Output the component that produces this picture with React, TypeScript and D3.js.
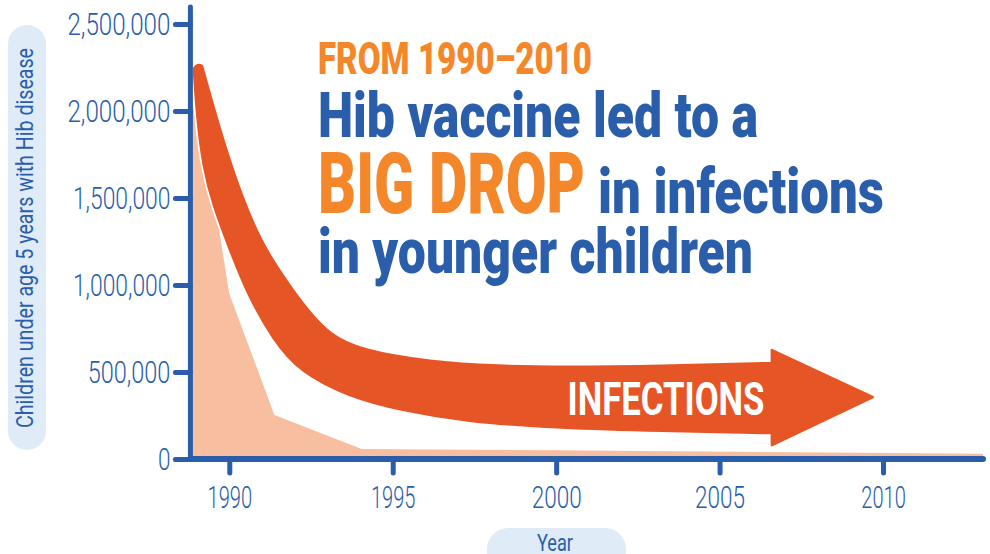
import React, { useEffect, useRef } from 'react';
import * as d3 from 'd3';

// Hib cases in children under 5
const years = [1988.8, 1989.65, 1990, 1991.38, 1994.05, 2000, 2013.06];
const cases = [2100000, 1360000, 950000, 253000, 57000, 50000, 30000];

const yTicks = [0, 500000, 1000000, 1500000, 2000000, 2500000];
const xTicks = [1990, 1995, 2000, 2005, 2010];

// decorative "infections" arrow, given in year / value space
const arrowUpperYears = [1989.165, 1989.41, 1989.9, 1990.39, 1990.94, 1991.61, 1992.38, 1993.08, 1994.0, 1996.14, 1998.28, 2000.12, 2003.18, 2006.6];
const arrowUpperValues = [2259000, 2092000, 1776000, 1506000, 1259000, 1057000, 856000, 713000, 626000, 557000, 534000, 529000, 534000, 552000];
const arrowLowerYears = [1988.92, 1989.01, 1989.2, 1989.5, 1990.02, 1990.54, 1991.34, 1992.16, 1993.69, 1995.22, 1997.27, 2000.12, 2003.18, 2006.6];
const arrowLowerValues = [2230000, 1966000, 1678000, 1460000, 1201000, 954000, 684000, 500000, 356000, 282000, 213000, 178000, 161000, 149000];
const arrowHeadYears = [2006.6, 2009.69, 2006.6];
const arrowHeadValues = [626000, 356000, 80000];

const BLUE = '#2a5eaa';
const ORANGE = '#f5872b';
const RED = '#e65525';
const PEACH = '#f7bf9f';
const PILL = '#dfebf6';
const FONT = 'Roboto, "Noto Sans", sans-serif';

// rough widths of the condensed digits in the original
const labelWidth = (s: string) =>
  [...s].reduce((w, c) => w + (c === '1' ? 7 : c === ',' ? 7.75 : 12.5), 0);

export default function App() {
  const ref = useRef<SVGSVGElement>(null);

  useEffect(() => {
    const svg = d3.select(ref.current);
    svg.selectAll('*').remove();

    const x = d3.scaleLinear().domain([1990, 2010]).range([229.3, 883]);
    const y = d3.scaleLinear().domain([0, 2500000]).range([459, 24]);
    const xMin = 1988.81, xMax = 2013.06, yMax = 2598000;

    // axis title pills
    svg.append('rect').attr('x', 8).attr('y', 25).attr('width', 38).attr('height', 425)
      .attr('rx', 19).attr('fill', PILL);
    svg.append('text')
      .attr('transform', 'translate(33,238) rotate(-90)')
      .attr('text-anchor', 'middle')
      .attr('font-family', FONT).attr('font-size', 24).attr('fill', BLUE)
      .attr('textLength', 380).attr('lengthAdjust', 'spacingAndGlyphs')
      .text('Children under age 5 years with Hib disease');

    svg.append('rect').attr('x', 487).attr('y', 528).attr('width', 139).attr('height', 44)
      .attr('rx', 21).attr('fill', PILL);
    svg.append('text').attr('x', 537).attr('y', 551)
      .attr('font-family', FONT).attr('font-size', 24).attr('fill', BLUE)
      .attr('textLength', 36).attr('lengthAdjust', 'spacingAndGlyphs')
      .text('Year');

    // area
    const data = years.map((yr, i) => ({ yr, v: cases[i] }));
    const area = d3.area<{ yr: number; v: number }>()
      .x(d => x(d.yr)).y0(y(0)).y1(d => y(d.v));
    svg.append('path').datum(data).attr('d', area).attr('fill', PEACH);

    // arrow: upper edge -> head -> lower edge back, rounded tip
    const line = d3.line<[number, number]>()
      .x(d => x(d[0])).y(d => y(d[1]))
      .curve(d3.curveBasis);
    const upper = arrowUpperYears.map((yr, i) => [yr, arrowUpperValues[i]] as [number, number]);
    const lower = arrowLowerYears.map((yr, i) => [yr, arrowLowerValues[i]] as [number, number]).reverse();
    const head = arrowHeadYears.map((yr, i) => [x(yr), y(arrowHeadValues[i])]);
    const start = [x(upper[0][0]), y(upper[0][1])];
    const arrowPath = line(upper)! +
      head.map(p => `L${p[0]},${p[1]}`).join('') +
      line(lower)!.replace(/^M/, 'L') +
      `A5.2,5.2 0 0 1 ${start[0]},${start[1]}Z`;
    svg.append('path').attr('d', arrowPath).attr('fill', 'none')
      .attr('stroke', '#fff').attr('stroke-width', 6).attr('stroke-linejoin', 'round');
    svg.append('path').attr('d', arrowPath).attr('fill', RED)
      .attr('stroke', RED).attr('stroke-width', 2.5).attr('stroke-linejoin', 'round');

    svg.append('text').attr('x', x(2003.36)).attr('y', 415)
      .attr('text-anchor', 'middle')
      .attr('font-family', FONT).attr('font-weight', 700).attr('font-size', 47).attr('fill', '#fff')
      .attr('textLength', 197).attr('lengthAdjust', 'spacingAndGlyphs')
      .text('INFECTIONS');

    // axes
    const yAxis = svg.append('g').attr('transform', `translate(${x(xMin)},0)`)
      .call(d3.axisLeft(y).tickValues(yTicks).tickSize(15).tickPadding(5).tickFormat(d3.format(',')));
    const xAxis = svg.append('g').attr('transform', `translate(0,${y(0)})`)
      .call(d3.axisBottom(x).tickValues(xTicks).tickSize(14).tickPadding(12).tickFormat(d3.format('d')));
    [yAxis, xAxis].forEach(g => {
      g.select('.domain').remove();
      g.selectAll('.tick line').attr('stroke', BLUE).attr('stroke-width', 5).attr('stroke-linecap', 'round');
      g.selectAll<SVGTextElement, number>('.tick text')
        .attr('fill', BLUE).attr('font-family', FONT).attr('font-weight', 300).attr('font-size', 32)
        .attr('lengthAdjust', 'spacingAndGlyphs')
        .attr('textLength', function () { return labelWidth(this.textContent || ''); });
    });

    svg.append('line').attr('x1', x(xMin)).attr('x2', x(xMin)).attr('y1', y(yMax)).attr('y2', y(0))
      .attr('stroke', BLUE).attr('stroke-width', 5).attr('stroke-linecap', 'round');
    svg.append('line').attr('x1', x(xMin)).attr('x2', x(xMax)).attr('y1', y(0)).attr('y2', y(0))
      .attr('stroke', BLUE).attr('stroke-width', 6).attr('stroke-linecap', 'round');

    // headline
    const title = svg.append('g').attr('font-family', FONT).attr('font-weight', 900);
    title.append('text').attr('x', 318).attr('y', 74).attr('font-size', 45).attr('fill', ORANGE)
      .attr('textLength', 274).attr('lengthAdjust', 'spacingAndGlyphs').text('FROM 1990–2010');
    title.append('text').attr('x', 318).attr('y', 137).attr('font-size', 63).attr('fill', BLUE)
      .attr('textLength', 440).attr('lengthAdjust', 'spacingAndGlyphs').text('Hib vaccine led to a');
    title.append('text').attr('x', 318).attr('y', 213).attr('font-size', 86).attr('fill', ORANGE)
      .attr('textLength', 267).attr('lengthAdjust', 'spacingAndGlyphs').text('BIG DROP');
    title.append('text').attr('x', 598).attr('y', 213).attr('font-size', 63).attr('fill', BLUE)
      .attr('textLength', 286).attr('lengthAdjust', 'spacingAndGlyphs').text('in infections');
    title.append('text').attr('x', 318).attr('y', 273).attr('font-size', 63).attr('fill', BLUE)
      .attr('textLength', 435).attr('lengthAdjust', 'spacingAndGlyphs').text('in younger children');
  }, []);

  return (
    <svg ref={ref} width={990} height={554}
      style={{ position: 'absolute', left: 0, top: 0, background: '#fff' }} />
  );
}
